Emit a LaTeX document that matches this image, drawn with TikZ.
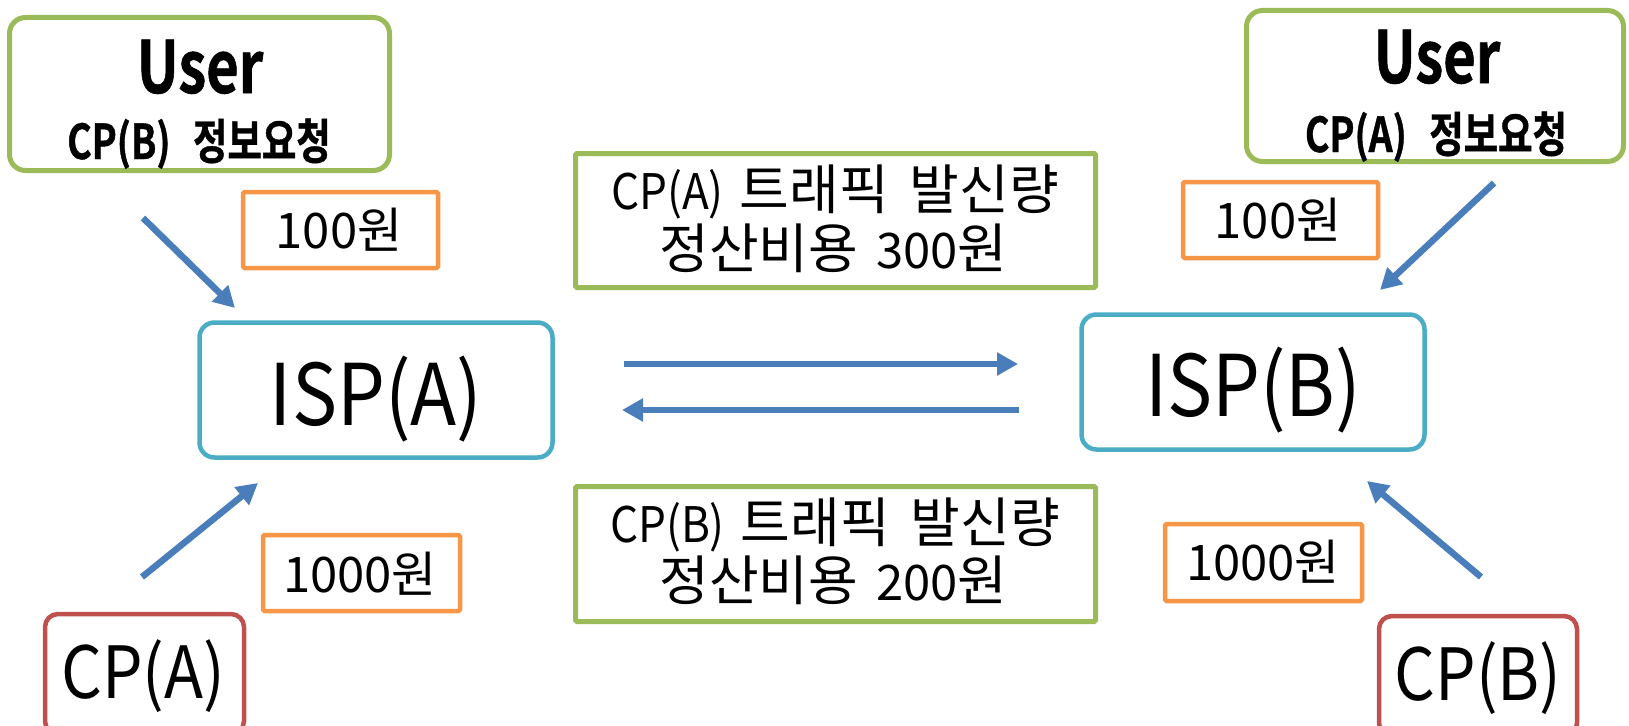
\documentclass[tikz,border=0pt]{standalone}
\usepackage{fontspec}
\usetikzlibrary{arrows.meta}
\setmainfont{Noto Sans CJK KR}
\newfontfamily\condfont[FakeStretch=0.89]{Noto Sans CJK KR}
\newfontfamily\latfont[FakeStretch=0.9]{Noto Sans CJK KR}
\newfontfamily\condbold[FakeStretch=0.78,FakeBold=0.8,UprightFont={* Bold}]{Noto Sans CJK KR}
\newcommand{\latpart}[1]{{\latfont\fontsize{49}{49}\selectfont #1}}
\newcommand{\numpart}[1]{{\fontsize{49}{49}\selectfont #1}}
\definecolor{ugreen}{HTML}{9BBB59}
\definecolor{uorange}{HTML}{F79646}
\definecolor{ublue}{HTML}{4BACC6}
\definecolor{ured}{HTML}{C0504D}
\definecolor{uarrow}{HTML}{4A7EBB}
\tikzset{
  x=1pt, y=-1pt,
  userbox/.style={draw=ugreen, line width=5pt, rounded corners=16pt, fill=white, inner sep=0pt},
  ispbox/.style={draw=ublue, line width=4.5pt, rounded corners=15pt, fill=white, inner sep=0pt},
  cpbox/.style={draw=ured, line width=4.5pt, rounded corners=13pt, fill=white, inner sep=0pt},
  wonbox/.style={draw=uorange, line width=4.5pt, rounded corners=1.5pt, fill=white, inner sep=0pt},
  feebox/.style={draw=ugreen, line width=5pt, rounded corners=1.5pt, fill=white, inner sep=0pt},
  bigtxt/.style={anchor=base, inner sep=0pt, font=\condbold\fontsize{72}{72}\selectfont},
  subtxt/.style={anchor=base, inner sep=0pt, font=\condbold\fontsize{48}{48}\selectfont},
  isptxt/.style={anchor=base, inner sep=0pt, font=\condfont\fontsize{85}{85}\selectfont},
  cptxt/.style={anchor=base, inner sep=0pt, font=\condfont\fontsize{72}{72}\selectfont},
  wontxt/.style={anchor=base, inner sep=0pt, font=\fontsize{49}{49}\selectfont},
  feetxt/.style={anchor=base, inner sep=0pt, font=\fontsize{54}{54}\selectfont},
  flow/.style={draw=uarrow, line width=6.5pt, -{Triangle[length=21pt,width=22pt]}},
}
\begin{document}
\begin{tikzpicture}
\useasboundingbox (0,0) rectangle (1629,725);
\clip (0,0) rectangle (1629,725);
% boxes
\node[userbox, minimum width=380pt, minimum height=153pt] (userA) at (199.5,94) {};
\node[userbox, minimum width=377pt, minimum height=151pt] (userB) at (1435,86) {};
\node[wonbox, minimum width=195pt, minimum height=76pt] (wonA1) at (340.5,230) {};
\node[wonbox, minimum width=195pt, minimum height=76pt] (wonB1) at (1280.5,220) {};
\node[ispbox, minimum width=353pt, minimum height=135pt] (ispA) at (376,390) {};
\node[ispbox, minimum width=343pt, minimum height=135pt] (ispB) at (1253,382) {};
\node[feebox, minimum width=520pt, minimum height=134pt] (feeA) at (835.5,220.5) {};
\node[feebox, minimum width=520pt, minimum height=135pt] (feeB) at (835.5,554) {};
\node[wonbox, minimum width=197pt, minimum height=76pt] (wonA2) at (361.5,573) {};
\node[wonbox, minimum width=197pt, minimum height=77pt] (wonB2) at (1263.5,562.5) {};
\node[cpbox, minimum width=199pt, minimum height=120pt] (cpA) at (144.5,674) {};
\node[cpbox, minimum width=198pt, minimum height=120pt] (cpB) at (1478,676) {};
% texts
\node[bigtxt] (userAt) at (200,93) {User};
\node[subtxt] (userAs) at (199,159) {CP(B)\hspace{14pt} 정보요청};
\node[bigtxt] (userBt) at (1437,83) {User};
\node[subtxt] (userBs) at (1436,152) {CP(A)\hspace{14pt} 정보요청};
\node[wontxt] (wonA1t) at (339,248) {100원};
\node[wontxt] (wonB1t) at (1278,238) {100원};
\node[wontxt] (wonA2t) at (360,592) {1000원};
\node[wontxt] (wonB2t) at (1263,580) {1000원};
\node[isptxt] (ispAt) at (376,425) {ISP(A)};
\node[isptxt] (ispBt) at (1253,416) {ISP(B)};
\node[cptxt] (cpAt) at (143,698) {CP(A)};
\node[cptxt] (cpBt) at (1478,700) {CP(B)};
\node[feetxt] (feeA1) at (835,209) {\latpart{CP(A)}\hspace{16pt}트래픽\hspace{21pt}발신량};
\node[feetxt] (feeA2) at (833.5,268) {정산비용\hspace{18pt}\numpart{300}원};
\node[feetxt] (feeB1) at (835,542) {\latpart{CP(B)}\hspace{16pt}트래픽\hspace{21pt}발신량};
\node[feetxt] (feeB2) at (833.5,600) {정산비용\hspace{18pt}\numpart{200}원};
% arrow endpoints
\coordinate (a1s) at (143,218); \coordinate (a1e) at (235,308);
\coordinate (a2s) at (1494,183); \coordinate (a2e) at (1380,290);
\coordinate (a3s) at (142,577); \coordinate (a3e) at (258,483);
\coordinate (a4s) at (1481,577); \coordinate (a4e) at (1367,481);
\coordinate (h1s) at (624,364); \coordinate (h1e) at (1018,364);
\coordinate (h2s) at (1019,410); \coordinate (h2e) at (622,410);
\draw[flow] (a1s) -- (a1e);
\draw[flow] (a2s) -- (a2e);
\draw[flow] (a3s) -- (a3e);
\draw[flow] (a4s) -- (a4e);
\draw[flow] (h1s) -- (h1e);
\draw[flow] (h2s) -- (h2e);
\end{tikzpicture}
\end{document}
